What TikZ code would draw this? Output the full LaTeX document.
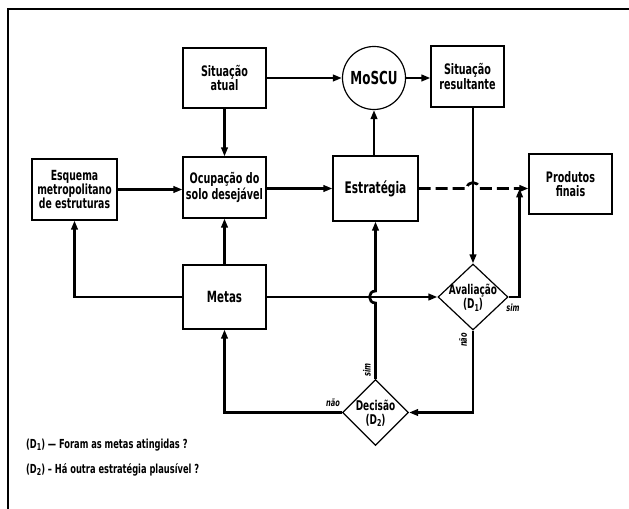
\documentclass[tikz,border=0pt]{standalone}
\usepackage{fontspec}
\setmainfont{DejaVu Sans Condensed}[FakeStretch=0.74]
\usetikzlibrary{arrows.meta,shapes.geometric,calc}
\newcommand\sbs[1]{\raisebox{-0.35ex}{\fontsize{9.5}{9.5}\selectfont #1}}
\newcommand\fs[2]{\fontsize{#1}{#2}\selectfont\bfseries}
\begin{document}
\begin{tikzpicture}[x=1bp,y=-1bp,
  txt/.style={align=center,font=\fs{14.5}{14.5},inner sep=0pt},
  box/.style={draw,line width=1.2bp,txt,inner sep=1bp},
  dia/.style={draw,line width=1.2bp,diamond,inner sep=0pt},
  conn/.style={line width=2.7bp},
  arr/.style={conn,-{Triangle[length=9bp,width=6.5bp]}},
  lab/.style={font=\fontsize{10}{10}\selectfont\bfseries\itshape,inner sep=0.5bp}]
\useasboundingbox (0,0) rectangle (629,509);
% frame
\draw[line width=1.5bp] (629,9) -- (8,9) -- (8,509);
% boxes
\node[box,minimum width=83bp,minimum height=60bp] (sa) at (224.5,78) {Situação\\atual};
\node[box,minimum width=85bp,minimum height=61bp,font=\fs{14}{14.5}] (esq) at (74.5,189.5) {Esquema\\metropolitano\\de estruturas};
\node[box,minimum width=83bp,minimum height=61bp] (ocu) at (224.5,187.5) {Ocupação do\\solo desejável};
\node[box,minimum width=83bp,minimum height=64bp,font=\fs{15.5}{15}] (metas) at (224.5,297) {Metas};
\node[box,circle,minimum size=63bp,font=\fs{18}{18}] (moscu) at (374,78) {MoSCU};
\node[box,minimum width=73bp,minimum height=61bp] (sr) at (467.5,76.5) {Situação\\resultante};
\node[box,minimum width=85bp,minimum height=65bp,font=\fs{16}{15}] (estr) at (375.5,188.5) {Estratégia};
\node[box,minimum width=83bp,minimum height=60bp] (prod) at (570.5,184) {Produtos\\finais};
\node[dia,minimum width=70bp,minimum height=66bp,
  label={[txt,font=\fs{13.5}{14},yshift=-1bp]center:Avaliação\\(D\sbs{1})}] (aval) at (473,297) {};
\node[dia,minimum width=66bp,minimum height=66bp,
  label={[txt,font=\fs{13.5}{14},yshift=-1bp]center:Decisão\\(D\sbs{2})}] (dec) at (375.5,412.5) {};
% helper coordinates
\coordinate (sj) at ($(aval.east)+(11,0)$);
\coordinate (hc) at (estr.east -| aval.north);
\coordinate (h1) at ($(hc)+(-6,0)$);
\coordinate (h2) at ($(hc)+(6,0)$);
\coordinate (vc) at (dec.north |- metas.east);
\coordinate (v1) at ($(vc)+(0,6)$);
\coordinate (v2) at ($(vc)+(0,-6)$);
\coordinate (mj) at (esq.south |- metas.west);
\coordinate (dj) at (metas.south |- dec.west);
\coordinate (aj) at (aval.south |- dec.east);
% connectors
\draw[arr] (sa.east |- moscu.west) -- (moscu.west);
\draw[arr] (moscu.east) -- (moscu.east -| sr.west);
\draw[arr] (sa.south) -- (ocu.north);
\draw[arr] (esq.east) -- (esq.east -| ocu.west);
\draw[arr] (ocu.east |- estr.west) -- (estr.west);
\draw[arr] (estr.north -| moscu.south) -- (moscu.south);
\draw[arr] (sr.south -| aval.north) -- (aval.north);
\draw[arr,dash pattern=on 12bp off 5bp] (estr.east) -- (h1)
  .. controls ($(h1)+(0,-8)$) and ($(h2)+(0,-8)$) .. (h2) -- (estr.east -| prod.west);
\draw[arr] (aval.east) -- (sj) -- (sj |- estr.east);
\draw[arr] (metas.east) -- (aval.west);
\draw[arr] (dec.north) -- (v1)
  .. controls ($(v1)+(-8,0)$) and ($(v2)+(-8,0)$) .. (v2) -- (estr.south);
\draw[arr] (metas.west) -- (mj) -- (esq.south);
\draw[arr] (metas.north) -- (ocu.south);
\draw[arr] (dec.west) -- (dj) -- (metas.south);
\draw[arr] (aval.south) -- (aj) -- (dec.east);
% branch labels
\node[lab] (l1) at (513,308) {sim};
\node[lab,rotate=90] (l2) at (463,340) {não};
\node[lab,rotate=90] (l3) at (367,370) {sim};
\node[lab] (l4) at (333,403) {não};
% legend
\node[txt,anchor=base west,font=\fs{12.5}{14}] (leg1) at (26,448) {(D\sbs{1}) — Foram as metas atingidas ?};
\node[txt,anchor=base west,font=\fs{12.5}{14}] (leg2) at (26,473) {(D\sbs{2}) – Há outra estratégia plausível ?};
\end{tikzpicture}
\end{document}
